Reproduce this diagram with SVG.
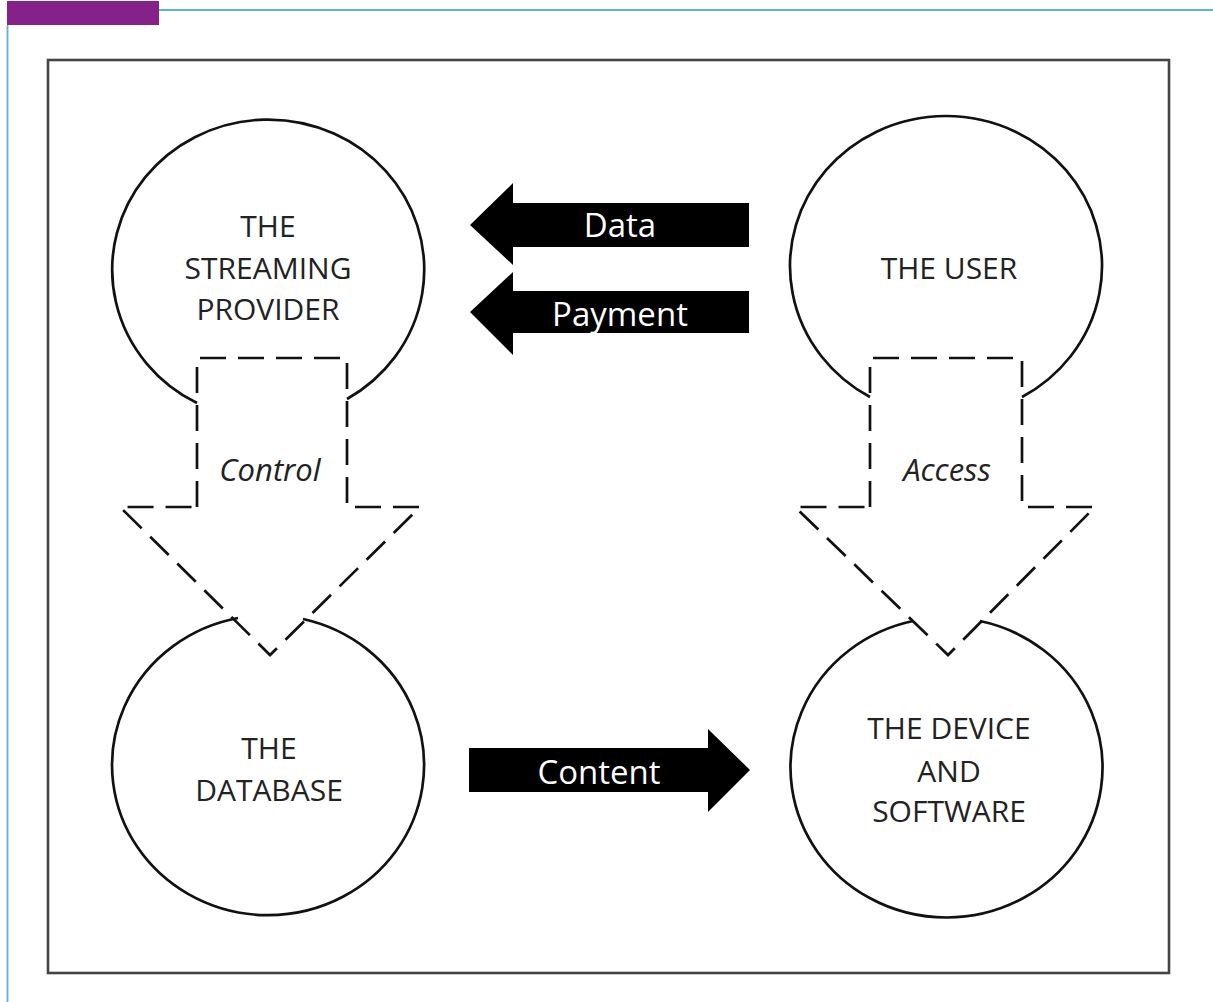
<svg xmlns="http://www.w3.org/2000/svg" width="1213" height="1002" viewBox="0 0 1213 1002">
<style>
.node{fill:none;stroke:#111;stroke-width:2.7}
.dash{fill:none;stroke:#111;stroke-width:2.7;stroke-dasharray:26 12}
.lbl{font-family:"Open Sans","DejaVu Sans",sans-serif;font-size:30px;fill:#222;text-anchor:middle}
.ital{font-family:"Open Sans","DejaVu Sans",sans-serif;font-size:31px;font-style:italic;fill:#222;text-anchor:middle}
.blk{fill:#000}
.wt{font-family:"Open Sans","DejaVu Sans",sans-serif;font-size:33px;fill:#fff;text-anchor:middle}
</style>
<rect width="1213" height="1002" fill="#fff"/>
<rect x="7" y="1" width="152" height="24" fill="#84228a"/>
<line x1="159" y1="10" x2="1213" y2="10" stroke="#62b0d4" stroke-width="1.8"/>
<line x1="7.5" y1="25" x2="7.5" y2="1002" stroke="#62b0d4" stroke-width="1.8"/>
<rect x="48" y="60" width="1121" height="913" fill="none" stroke="#444" stroke-width="2.6"/>

<g id="streaming-provider">
<path class="node" d="M197,403 A156 150 0 1 1 347,399"/>
<text class="lbl" x="268" y="237">THE</text>
<text class="lbl" x="268" y="279">STREAMING</text>
<text class="lbl" x="268" y="320">PROVIDER</text>
</g>
<g id="user">
<path class="node" d="M870,397 A156 150 0 1 1 1022,397"/>
<text class="lbl" x="949" y="279">THE USER</text>
</g>
<g id="database">
<path class="node" d="M303,619 A156 150 0 1 1 238,618"/>
<text class="lbl" x="269" y="759">THE</text>
<text class="lbl" x="269" y="801">DATABASE</text>
</g>
<g id="device">
<path class="node" d="M980,621 A156 150 0 1 1 913,621"/>
<text class="lbl" x="949" y="739">THE DEVICE</text>
<text class="lbl" x="949" y="782">AND</text>
<text class="lbl" x="949" y="822">SOFTWARE</text>
</g>

<g id="connectors">
<g id="control">
<path class="dash" d="M197,507 L197,358 L347,358 L347,507 L420,507 L270,655 L120,507 Z"/>
<text class="ital" x="270" y="481">Control</text>
</g>
<g id="access">
<path class="dash" d="M870,507 L870,358 L1022,358 L1022,507 L1095,507 L948,655 L795,507 Z"/>
<text class="ital" x="947" y="481">Access</text>
</g>
<g id="data">
<path class="blk" d="M749,203 L513,203 L513,183 L470,225 L513,265 L513,247 L749,247 Z"/>
<text class="wt" x="620" y="237">Data</text>
</g>
<g id="payment">
<path class="blk" d="M749,291 L513,291 L513,272 L470,312 L513,355 L513,333 L749,333 Z"/>
<text class="wt" x="620" y="326">Payment</text>
</g>
<g id="content">
<path class="blk" d="M469,748 L708,748 L708,729 L750,770 L708,812 L708,792 L469,792 Z"/>
<text class="wt" x="599" y="784">Content</text>
</g>
</g>
</svg>
